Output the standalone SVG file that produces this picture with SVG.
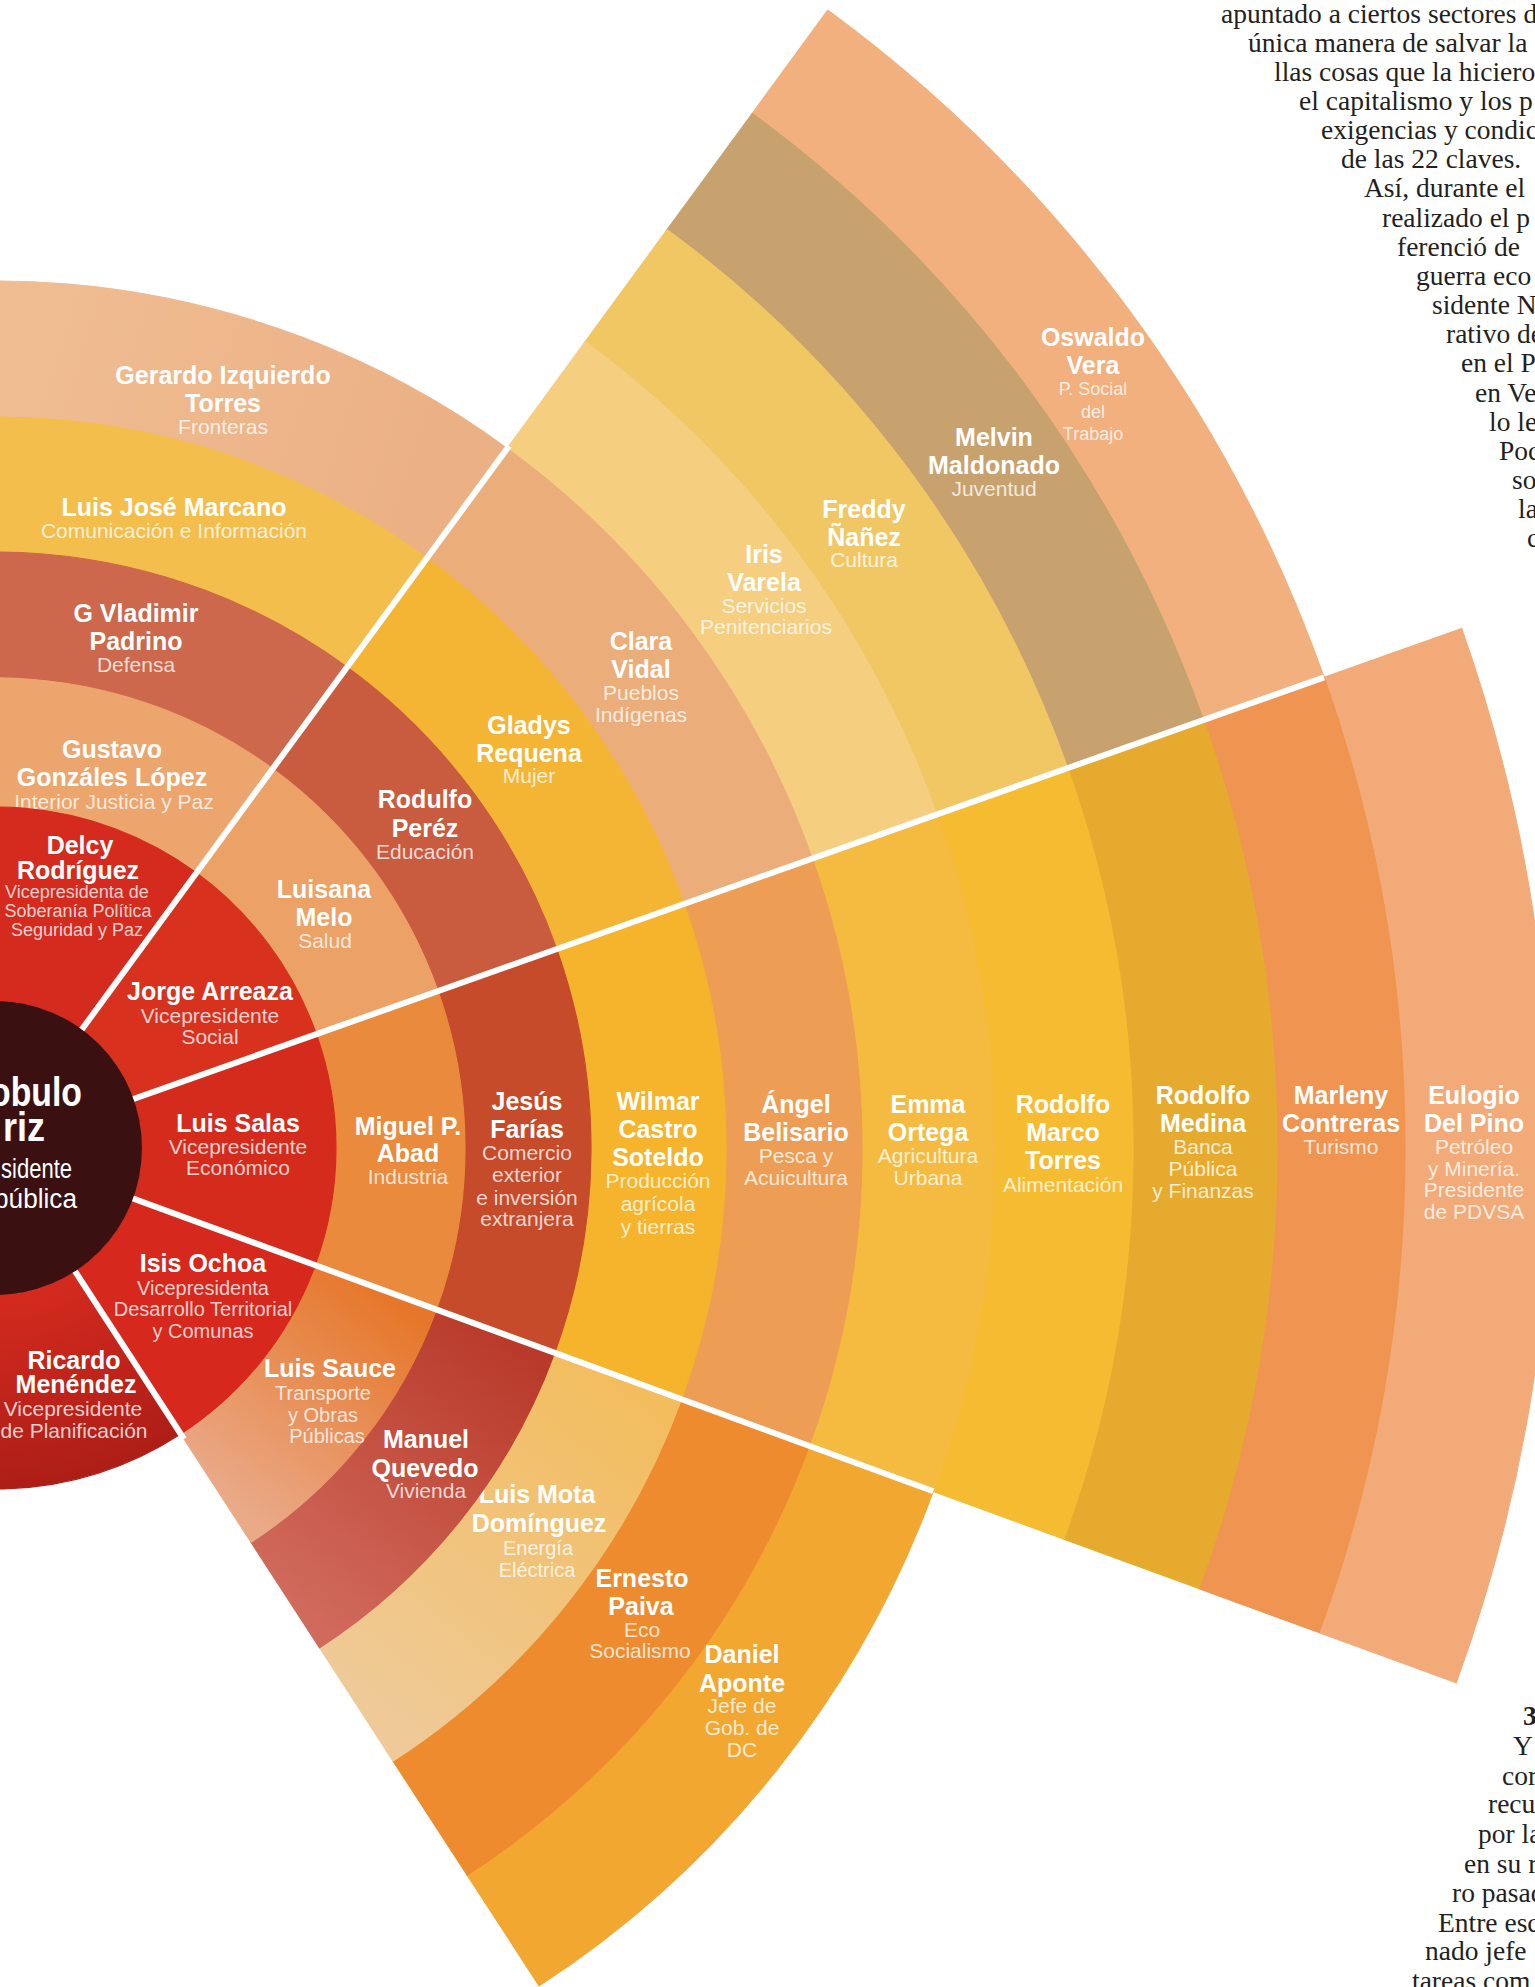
<svg xmlns="http://www.w3.org/2000/svg" width="1535" height="1987" viewBox="0 0 1535 1987">
<style>
.n{font-family:"Liberation Sans",Arial,sans-serif;font-weight:700;font-size:25px;fill:#fff;text-anchor:middle}
.r{font-family:"Liberation Sans",Arial,sans-serif;font-size:21px;fill:#fff;fill-opacity:.78;text-anchor:middle}
.rs{font-size:18px}
.rm{font-size:20px}
.art{font-family:"Liberation Serif","Times New Roman",serif;font-size:27.5px;fill:#231f20}
.sep{stroke:#fff;stroke-width:6;fill:none}
.band{stroke-width:1.2}
.ct{font-family:"Liberation Sans",Arial,sans-serif;fill:#fff}
</style>
<defs>
<linearGradient id="gSauce" gradientUnits="userSpaceOnUse" x1="376" y1="1287" x2="216" y2="1488"><stop offset="0" stop-color="#e6772a"/><stop offset="1" stop-color="#eaa987"/></linearGradient>
<linearGradient id="gManuel" gradientUnits="userSpaceOnUse" x1="496" y1="1330" x2="285" y2="1595"><stop offset="0" stop-color="#b93a2a"/><stop offset="1" stop-color="#d06a5c"/></linearGradient>
<linearGradient id="gMota" gradientUnits="userSpaceOnUse" x1="618" y1="1375" x2="356" y2="1704"><stop offset="0" stop-color="#f3bd5e"/><stop offset="1" stop-color="#efca98"/></linearGradient>
<linearGradient id="gGerardo" gradientUnits="userSpaceOnUse" x1="0" y1="330" x2="460" y2="480"><stop offset="0" stop-color="#f0bd93"/><stop offset="1" stop-color="#ebb083"/></linearGradient>
<radialGradient id="gRicardo" gradientUnits="userSpaceOnUse" cx="-5" cy="1148" r="341"><stop offset=".43" stop-color="#d42a1e"/><stop offset="1" stop-color="#ad1e17"/></radialGradient>
</defs>
<rect width="1535" height="1987" fill="#fff"/>

<g id="article-top" class="art">
<text x="1221" y="23">apuntado a ciertos sectores d</text>
<text x="1248" y="52">única manera de salvar la</text>
<text x="1274" y="81">llas cosas que la hiciero</text>
<text x="1299" y="110">el capitalismo y los p</text>
<text x="1321" y="139">exigencias y condic</text>
<text x="1341" y="168">de las 22 claves.</text>
<text x="1364" y="197">Así, durante el</text>
<text x="1382" y="227">realizado el p</text>
<text x="1397" y="256">ferenció de</text>
<text x="1416" y="285">guerra eco</text>
<text x="1432" y="314">sidente N</text>
<text x="1446" y="343">rativo de</text>
<text x="1461" y="372">en el P</text>
<text x="1475" y="402">en Ve</text>
<text x="1489" y="431">lo le</text>
<text x="1499" y="460">Poc</text>
<text x="1512" y="489">so</text>
<text x="1518" y="518">la</text>
<text x="1527" y="547">c</text>
</g>
<g id="article-bottom" class="art">
<text x="1523" y="1725" font-weight="700">3</text>
<text x="1513" y="1755">Y</text>
<text x="1502" y="1785">cor</text>
<text x="1488" y="1813">recu</text>
<text x="1478" y="1843">por la</text>
<text x="1464" y="1873">en su r</text>
<text x="1452" y="1902">ro pasad</text>
<text x="1438" y="1932">Entre esc</text>
<text x="1425" y="1960">nado jefe</text>
<text x="1412" y="1990">tareas com</text>
</g>

<!-- Sector A -->
<g id="node-gerardo-izquierdo">
<path class="band" fill="url(#gGerardo)" stroke="url(#gGerardo)" d="M-872 1148A867 867 0 0 1 507.1 448.4L426.7 558.1A731 731 0 0 0 -736 1148Z"/>
<text class="n" x="223" y="384">Gerardo Izquierdo</text><text class="n" x="223" y="412">Torres</text><text class="r" x="223" y="434">Fronteras</text>
</g>
<g id="node-luis-jose-marcano">
<path class="band" fill="#f3be4c" stroke="#f3be4c" d="M-736 1148A731 731 0 0 1 426.7 558.1L347 667.1A596 596 0 0 0 -601 1148Z"/>
<text class="n" x="174" y="516">Luis José Marcano</text><text class="r" x="174" y="538">Comunicación e Información</text>
</g>
<g id="node-vladimir-padrino">
<path class="band" fill="#cd684c" stroke="#cd684c" d="M-601 1148A596 596 0 0 1 347 667.1L272.6 768.7A470 470 0 0 0 -475 1148Z"/>
<text class="n" x="136" y="622">G Vladimir</text><text class="n" x="136" y="650">Padrino</text><text class="r" x="136" y="672">Defensa</text>
</g>
<g id="node-gustavo-gonzales">
<path class="band" fill="#eca56c" stroke="#eca56c" d="M-475 1148A470 470 0 0 1 272.6 768.7L196.4 872.8A341 341 0 0 0 -346 1148Z"/>
<text class="n" x="112" y="758">Gustavo</text><text class="n" x="112" y="786">Gonzáles López</text><text class="r" x="114" y="809">Interior Justicia y Paz</text>
</g>
<g id="node-delcy-rodriguez">
<path class="band" fill="#d42b1e" stroke="#d42b1e" d="M-346 1148A341 341 0 0 1 196.4 872.8L81.8 1029.4A147 147 0 0 0 -152 1148Z"/>
<text class="n" x="80" y="854" font-size="24">Delcy</text><text class="n" x="78" y="879" font-size="24">Rodríguez</text>
<text class="r rs" x="77" y="898">Vicepresidenta de</text><text class="r rs" x="78" y="917">Soberanía Política</text><text class="r rs" x="77" y="936">Seguridad y Paz</text>
</g>

<!-- Sector B -->
<g id="node-oswaldo-vera">
<path class="band" fill="#f1b07e" stroke="#f1b07e" d="M827.8 10.2A1410 1410 0 0 1 1324.1 677.3L1203.5 720.1A1282 1282 0 0 0 752.2 113.5Z"/>
<text class="n" x="1093" y="346">Oswaldo</text><text class="n" x="1093" y="374">Vera</text>
<text class="r rs" x="1093" y="395">P. Social</text><text class="r rs" x="1093" y="418">del</text><text class="r rs" x="1093" y="440">Trabajo</text>
</g>
<g id="node-melvin-maldonado">
<path class="band" fill="#c7a26e" stroke="#c7a26e" d="M752.2 113.5A1282 1282 0 0 1 1203.5 720.1L1067.7 768.1A1138 1138 0 0 0 667.1 229.7Z"/>
<text class="n" x="994" y="446">Melvin</text><text class="n" x="994" y="474">Maldonado</text><text class="r" x="994" y="496">Juventud</text>
</g>
<g id="node-freddy-nanez">
<path class="band" fill="#f1c764" stroke="#f1c764" d="M667.1 229.7A1138 1138 0 0 1 1067.7 768.1L936.7 814.5A999 999 0 0 0 585 341.8Z"/>
<text class="n" x="864" y="518">Freddy</text><text class="n" x="864" y="546">Ñañez</text><text class="r" x="864" y="567">Cultura</text>
</g>
<g id="node-iris-varela">
<path class="band" fill="#f5ce80" stroke="#f5ce80" d="M585 341.8A999 999 0 0 1 936.7 814.5L812.3 858.6A867 867 0 0 0 507.1 448.4Z"/>
<text class="n" x="764" y="563">Iris</text><text class="n" x="764" y="591">Varela</text><text class="r" x="764" y="613">Servicios</text><text class="r" x="766" y="634">Penitenciarios</text>
</g>
<g id="node-clara-vidal">
<path class="band" fill="#ebae7b" stroke="#ebae7b" d="M507.1 448.4A867 867 0 0 1 812.3 858.6L684.1 904A731 731 0 0 0 426.7 558.1Z"/>
<text class="n" x="641" y="650">Clara</text><text class="n" x="641" y="678">Vidal</text><text class="r" x="641" y="700">Pueblos</text><text class="r" x="641" y="722">Indígenas</text>
</g>
<g id="node-gladys-requena">
<path class="band" fill="#f4b535" stroke="#f4b535" d="M426.7 558.1A731 731 0 0 1 684.1 904L556.8 949.1A596 596 0 0 0 347 667.1Z"/>
<text class="n" x="529" y="734">Gladys</text><text class="n" x="529" y="762">Requena</text><text class="r" x="529" y="783">Mujer</text>
</g>
<g id="node-rodulfo-perez">
<path class="band" fill="#c95b3f" stroke="#c95b3f" d="M347 667.1A596 596 0 0 1 556.8 949.1L438 991.1A470 470 0 0 0 272.6 768.7Z"/>
<text class="n" x="425" y="808">Rodulfo</text><text class="n" x="425" y="837">Peréz</text><text class="r" x="425" y="859">Educación</text>
</g>
<g id="node-luisana-melo">
<path class="band" fill="#eca167" stroke="#eca167" d="M272.6 768.7A470 470 0 0 1 438 991.1L316.4 1034.2A341 341 0 0 0 196.4 872.8Z"/>
<text class="n" x="324" y="898">Luisana</text><text class="n" x="324" y="926">Melo</text><text class="r" x="325" y="948">Salud</text>
</g>
<g id="node-jorge-arreaza">
<path class="band" fill="#d8321f" stroke="#d8321f" d="M196.4 872.8A341 341 0 0 1 316.4 1034.2L133.6 1098.9A147 147 0 0 0 81.8 1029.4Z"/>
<text class="n" x="210" y="1000">Jorge Arreaza</text><text class="r" x="210" y="1023">Vicepresidente</text><text class="r" x="210" y="1044">Social</text>
</g>

<!-- Sector C -->
<g id="node-eulogio-del-pino">
<path class="band" fill="#f2ab78" stroke="#f2ab78" d="M1461.7 628.6A1556 1556 0 0 1 1456.2 1682.7L1319.1 1632.6A1410 1410 0 0 0 1324.1 677.3Z"/>
<text class="n" x="1474" y="1104">Eulogio</text><text class="n" x="1474" y="1132">Del Pino</text>
<text class="r" x="1474" y="1154">Petróleo</text><text class="r" x="1474" y="1176">y Minería.</text><text class="r" x="1474" y="1197">Presidente</text><text class="r" x="1474" y="1219">de PDVSA</text>
</g>
<g id="node-marleny-contreras">
<path class="band" fill="#ef9451" stroke="#ef9451" d="M1324.1 677.3A1410 1410 0 0 1 1319.1 1632.6L1198.9 1588.6A1282 1282 0 0 0 1203.5 720.1Z"/>
<text class="n" x="1341" y="1104">Marleny</text><text class="n" x="1341" y="1132">Contreras</text><text class="r" x="1341" y="1154">Turismo</text>
</g>
<g id="node-rodolfo-medina">
<path class="band" fill="#e6ab2e" stroke="#e6ab2e" d="M1203.5 720.1A1282 1282 0 0 1 1198.9 1588.6L1063.7 1539.1A1138 1138 0 0 0 1067.7 768.1Z"/>
<text class="n" x="1203" y="1104">Rodolfo</text><text class="n" x="1203" y="1132">Medina</text>
<text class="r" x="1203" y="1154">Banca</text><text class="r" x="1203" y="1176">Pública</text><text class="r" x="1203" y="1198">y Finanzas</text>
</g>
<g id="node-rodolfo-marco-torres">
<path class="band" fill="#f5bc32" stroke="#f5bc32" d="M1067.7 768.1A1138 1138 0 0 1 1063.7 1539.1L933.2 1491.3A999 999 0 0 0 936.7 814.5Z"/>
<text class="n" x="1063" y="1113">Rodolfo</text><text class="n" x="1063" y="1141">Marco</text><text class="n" x="1063" y="1169">Torres</text><text class="r" x="1063" y="1192">Alimentación</text>
</g>
<g id="node-emma-ortega">
<path class="band" fill="#f5bb40" stroke="#f5bb40" d="M936.7 814.5A999 999 0 0 1 933.2 1491.3L809.2 1446A867 867 0 0 0 812.3 858.6Z"/>
<text class="n" x="928" y="1113">Emma</text><text class="n" x="928" y="1141">Ortega</text><text class="r" x="928" y="1163">Agricultura</text><text class="r" x="928" y="1185">Urbana</text>
</g>
<g id="node-angel-belisario">
<path class="band" fill="#ed9e54" stroke="#ed9e54" d="M812.3 858.6A867 867 0 0 1 809.2 1446L681.5 1399.2A731 731 0 0 0 684.1 904Z"/>
<text class="n" x="796" y="1113">Ángel</text><text class="n" x="796" y="1141">Belisario</text><text class="r" x="796" y="1163">Pesca y</text><text class="r" x="796" y="1185">Acuicultura</text>
</g>
<g id="node-wilmar-castro-soteldo">
<path class="band" fill="#f5b42b" stroke="#f5b42b" d="M684.1 904A731 731 0 0 1 681.5 1399.2L554.7 1352.8A596 596 0 0 0 556.8 949.1Z"/>
<text class="n" x="658" y="1110">Wilmar</text><text class="n" x="658" y="1138">Castro</text><text class="n" x="658" y="1166">Soteldo</text>
<text class="r" x="658" y="1188">Producción</text><text class="r" x="658" y="1211">agrícola</text><text class="r" x="658" y="1234">y tierras</text>
</g>
<g id="node-jesus-farias">
<path class="band" fill="#c64b2a" stroke="#c64b2a" d="M556.8 949.1A596 596 0 0 1 554.7 1352.8L436.4 1309.5A470 470 0 0 0 438 991.1Z"/>
<text class="n" x="527" y="1110">Jesús</text><text class="n" x="527" y="1138">Farías</text>
<text class="r" x="527" y="1160">Comercio</text><text class="r" x="527" y="1182">exterior</text><text class="r" x="527" y="1205">e inversión</text><text class="r" x="527" y="1226">extranjera</text>
</g>
<g id="node-miguel-abad">
<path class="band" fill="#e98a3c" stroke="#e98a3c" d="M438 991.1A470 470 0 0 1 436.4 1309.5L315.2 1265.2A341 341 0 0 0 316.4 1034.2Z"/>
<text class="n" x="408" y="1135">Miguel P.</text><text class="n" x="408" y="1162">Abad</text><text class="r" x="408" y="1184">Industria</text>
</g>
<g id="node-luis-salas">
<path class="band" fill="#d52b1c" stroke="#d52b1c" d="M316.4 1034.2A341 341 0 0 1 315.2 1265.2L133 1198.5A147 147 0 0 0 133.6 1098.9Z"/>
<text class="n" x="238" y="1132">Luis Salas</text><text class="r" x="238" y="1154">Vicepresidente</text><text class="r" x="238" y="1175">Económico</text>
</g>

<!-- Sector D -->
<g id="node-daniel-aponte">
<path class="band" fill="#f2a731" stroke="#f2a731" d="M933.2 1491.3A999 999 0 0 1 539.1 1985.8L467.2 1875.1A867 867 0 0 0 809.2 1446Z"/>
<text class="n" x="742" y="1663">Daniel</text><text class="n" x="742" y="1692">Aponte</text>
<text class="r" x="742" y="1713">Jefe de</text><text class="r" x="742" y="1735">Gob. de</text><text class="r" x="742" y="1757">DC</text>
</g>
<g id="node-ernesto-paiva">
<path class="band" fill="#ee8b2e" stroke="#ee8b2e" d="M809.2 1446A867 867 0 0 1 467.2 1875.1L393.1 1761.1A731 731 0 0 0 681.5 1399.2Z"/>
<text class="n" x="642" y="1587">Ernesto</text><text class="n" x="641" y="1615">Paiva</text><text class="r" x="642" y="1637">Eco</text><text class="r" x="640" y="1658">Socialismo</text>
</g>
<g id="node-luis-mota">
<path class="band" fill="url(#gMota)" stroke="url(#gMota)" d="M681.5 1399.2A731 731 0 0 1 393.1 1761.1L319.6 1647.8A596 596 0 0 0 554.7 1352.8Z"/>
<text class="n" x="537" y="1503">Luis Mota</text><text class="n" x="539" y="1532">Domínguez</text><text class="r rm" x="538" y="1555">Energía</text><text class="r rm" x="537" y="1577">Eléctrica</text>
</g>
<g id="node-manuel-quevedo">
<path class="band" fill="url(#gManuel)" stroke="url(#gManuel)" d="M554.7 1352.8A596 596 0 0 1 319.6 1647.8L251 1542.2A470 470 0 0 0 436.4 1309.5Z"/>
<text class="n" x="426" y="1448">Manuel</text><text class="n" x="425" y="1477">Quevedo</text><text class="r" x="426" y="1498">Vivienda</text>
</g>
<g id="node-luis-sauce">
<path class="band" fill="url(#gSauce)" stroke="url(#gSauce)" d="M436.4 1309.5A470 470 0 0 1 251 1542.2L180.7 1434A341 341 0 0 0 315.2 1265.2Z"/>
<text class="n" x="330" y="1377">Luis Sauce</text><text class="r rm" x="323" y="1400">Transporte</text><text class="r rm" x="323" y="1422">y Obras</text><text class="r rm" x="327" y="1443">Públicas</text>
</g>
<g id="node-isis-ochoa">
<path class="band" fill="#d6281c" stroke="#d6281c" d="M315.2 1265.2A341 341 0 0 1 180.7 1434L75.1 1271.3A147 147 0 0 0 133 1198.5Z"/>
<text class="n" x="203" y="1272">Isis Ochoa</text><text class="r rm" x="203" y="1295">Vicepresidenta</text><text class="r rm" x="203" y="1316">Desarrollo Territorial</text><text class="r rm" x="203" y="1338">y Comunas</text>
</g>

<!-- Sector E -->
<g id="node-ricardo-menendez">
<path class="band" fill="url(#gRicardo)" stroke="url(#gRicardo)" d="M180.7 1434A341 341 0 0 1 -346 1148L-152 1148A147 147 0 0 0 75.1 1271.3Z"/>
<text class="n" x="74" y="1369" font-size="24">Ricardo</text><text class="n" x="76" y="1393" font-size="24">Menéndez</text><text class="r" x="73" y="1416">Vicepresidente</text><text class="r" x="74" y="1438">de Planificación</text>
</g>

<g id="connectors" class="sep">
<line x1="-5" y1="1148" x2="509" y2="446"/>
<line x1="-5" y1="1148" x2="1324.1" y2="677.3"/>
<line x1="-5" y1="1148" x2="933.2" y2="1491.3"/>
<line x1="-5" y1="1148" x2="184" y2="1439"/>
</g>

<g id="node-presidente">
<circle cx="-5" cy="1148" r="147" fill="#3b1011"/>
<text class="ct" x="-10" y="1106" font-size="40" font-weight="700" textLength="92" lengthAdjust="spacingAndGlyphs">obulo</text>
<text class="ct" x="3" y="1141" font-size="40" font-weight="700" textLength="42" lengthAdjust="spacingAndGlyphs">riz</text>
<text class="ct" x="1" y="1178" font-size="27" textLength="71" lengthAdjust="spacingAndGlyphs">sidente</text>
<text class="ct" x="-6" y="1208" font-size="27" textLength="83" lengthAdjust="spacingAndGlyphs">pública</text>
</g>
</svg>
